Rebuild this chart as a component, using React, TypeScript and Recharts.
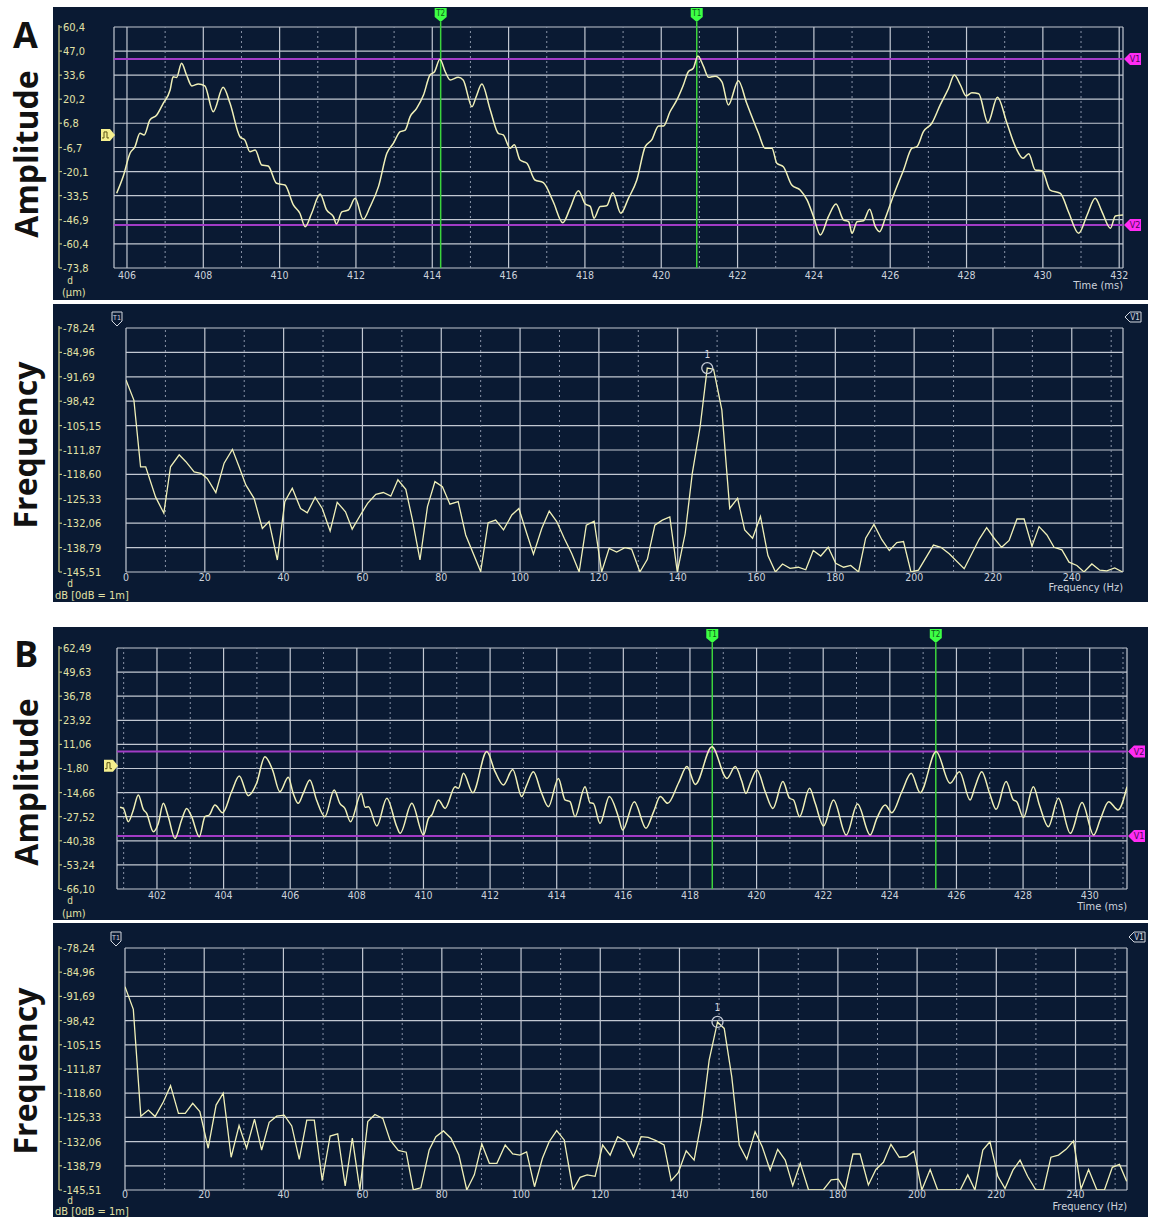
import React from "react";
import { CartesianGrid, Line, LineChart, ReferenceDot, ReferenceLine, XAxis, YAxis } from "recharts";

// ---- amplitude trace, record A: [time ms, displacement µm]
const ampATrace: [number, number][] = [
  [405.73, -32.2], [405.9, -22.9], [406.08, -9.9], [406.21, -6.2], [406.34, 1.2], [406.45, 0.3],
  [406.6, 8.6], [406.78, 11.4], [406.95, 17.9], [407.13, 25.3], [407.21, 32.7], [407.3, 32.3],
  [407.43, 40.2], [407.56, 33.7], [407.7, 27.6], [407.87, 28.7], [408.04, 27.6], [408.26, 13.2],
  [408.52, 26.8], [408.7, 17.9], [408.96, -0.7], [409.09, -2.6], [409.22, -9.0], [409.36, -8.1],
  [409.53, -16.4], [409.7, -17.0], [409.92, -26.6], [410.14, -27.6], [410.36, -38.7], [410.53, -43.3],
  [410.67, -50.8], [410.84, -43.3], [411.06, -32.6], [411.23, -41.5], [411.41, -45.2], [411.49, -49.3],
  [411.63, -42.5], [411.8, -41.5], [411.98, -35.0], [412.19, -46.7], [412.37, -39.7], [412.59, -28.5],
  [412.81, -9.9], [412.98, -4.4], [413.16, 2.1], [413.29, 3.0], [413.42, 10.5], [413.59, 15.1],
  [413.77, 22.5], [413.94, 33.7], [414.06, 35.5], [414.2, 42.4], [414.34, 35.5], [414.47, 30.9],
  [414.68, 32.4], [414.81, 30.9], [415.04, 16.0], [415.15, 21.6], [415.3, 28.7], [415.52, 14.2],
  [415.73, 1.2], [415.86, 0.3], [416.04, -7.1], [416.15, -5.2], [416.3, -13.7], [416.48, -15.5],
  [416.69, -24.8], [416.91, -26.3], [417.17, -36.9], [417.42, -48.6], [417.61, -40.6], [417.83, -30.8],
  [418.01, -38.2], [418.14, -39.5], [418.24, -46.1], [418.4, -39.5], [418.57, -39.2], [418.73, -31.9],
  [418.94, -43.3], [419.14, -35.0], [419.36, -24.8], [419.58, -6.2], [419.75, -2.5], [419.93, 5.3],
  [420.06, 5.3], [420.23, 13.2], [420.41, 19.8], [420.58, 28.1], [420.71, 35.5], [420.84, 37.4],
  [420.96, 44.3], [421.11, 38.3], [421.24, 32.4], [421.41, 33.0], [421.59, 29.9], [421.76, 17.0],
  [422.02, 30.5], [422.24, 17.9], [422.55, 1.2], [422.72, -7.1], [422.9, -7.1], [423.03, -15.5],
  [423.2, -17.4], [423.42, -27.6], [423.64, -30.4], [423.82, -35.9], [423.99, -45.2], [424.17, -55.4],
  [424.38, -45.2], [424.58, -38.2], [424.78, -47.1], [424.91, -48.0], [425.0, -54.5], [425.13, -48.0],
  [425.3, -47.5], [425.46, -41.1], [425.61, -50.8], [425.72, -53.6], [425.87, -46.1], [426.09, -33.1],
  [426.35, -19.2], [426.57, -7.1], [426.7, -6.2], [426.87, 2.1], [427.09, 6.8], [427.31, 17.0],
  [427.53, 26.3], [427.68, 33.7], [427.84, 28.1], [427.99, 22.0], [428.14, 23.8], [428.32, 23.2],
  [428.56, 7.1], [428.81, 21.3], [429.06, 6.8], [429.28, -6.2], [429.48, -12.7], [429.63, -10.2],
  [429.8, -19.2], [429.98, -19.6], [430.19, -30.4], [430.46, -32.2], [430.67, -42.5], [430.94, -54.5],
  [431.16, -44.3], [431.37, -35.0], [431.55, -42.5], [431.77, -51.7], [431.9, -44.8], [432.1, -44.3],
];

// ---- spectrum, record A: [frequency Hz, level dB]
const freqATrace: [number, number][] = [
  [0, -92.6], [2.0, -98.1], [3.7, -116.5], [5.0, -116.5], [7.5, -124.8], [9.6, -129.3], [11.3, -116.5],
  [13.5, -113.2], [15.2, -115.1], [17.3, -117.9], [19.0, -118.3], [20.6, -119.7], [22.8, -123.6],
  [24.9, -115.5], [27.0, -111.7], [28.7, -116.5], [30.4, -121.5], [32.5, -125.2], [34.6, -133.5],
  [36.3, -131.6], [38.4, -142.2], [40.3, -126.1], [42.2, -122.4], [44.3, -128.0], [46.0, -129.2],
  [48.0, -124.9], [49.8, -128.0], [51.8, -134.2], [53.6, -126.3], [55.7, -128.9], [57.4, -133.7],
  [59.6, -129.6], [61.3, -126.6], [63.4, -124.1], [65.3, -123.6], [67.2, -124.6], [69.0, -120.1],
  [71.0, -122.7], [72.7, -131.2], [74.6, -142.2], [76.5, -127.5], [78.4, -120.6], [80.3, -122.0],
  [82.2, -126.8], [84.3, -126.1], [86.2, -135.3], [90.0, -145.4], [91.9, -131.9], [93.8, -131.2],
  [95.8, -133.9], [97.9, -129.8], [99.7, -128.0], [101.7, -134.9], [103.4, -140.6], [105.5, -133.5],
  [107.4, -128.7], [109.3, -131.6], [111.2, -136.2], [113.1, -140.4], [115.0, -145.5], [116.8, -132.6],
  [118.8, -131.5], [120.7, -145.5], [122.6, -139.0], [124.5, -140.0], [126.6, -138.8], [128.3, -139.2],
  [130.4, -145.5], [132.3, -142.0], [134.2, -132.6], [136.1, -131.2], [138.0, -130.3], [139.9, -145.5],
  [141.9, -134.9], [143.7, -118.3], [145.7, -105.4], [147.5, -89.3], [149.1, -89.6], [151.2, -100.8],
  [153.2, -128.0], [155.2, -125.2], [157.0, -133.9], [159.0, -136.2], [161.0, -130.2], [162.9, -141.0],
  [164.8, -145.5], [166.6, -143.3], [168.5, -144.5], [170.6, -144.2], [172.5, -144.9], [174.4, -139.6],
  [176.3, -141.1], [178.2, -138.7], [180.1, -143.1], [182.1, -144.2], [183.9, -143.7], [185.9, -145.5],
  [187.7, -136.2], [189.8, -132.4], [191.8, -136.6], [193.7, -139.6], [195.6, -137.4], [197.3, -137.1],
  [199.2, -145.5], [201.1, -145.0], [204.9, -138.1], [206.8, -138.7], [208.9, -140.5], [212.7, -144.6],
  [216.5, -136.5], [218.4, -133.3], [220.3, -136.2], [222.2, -138.7], [224.1, -136.8], [226.1, -130.9],
  [227.9, -130.9], [229.9, -138.4], [231.7, -133.0], [233.7, -135.3], [235.5, -138.7], [237.5, -139.4],
  [239.3, -142.8], [241.3, -143.7], [243.1, -145.5], [245.1, -143.3], [247.1, -145.0], [248.9, -145.2],
  [250.9, -144.4], [252.9, -145.5],
];

// ---- amplitude trace, record B
const ampBTrace: [number, number][] = [
  [400.89, -22.5], [400.99, -23.1], [401.14, -30.2], [401.29, -23.9], [401.44, -15.9], [401.59, -23.6],
  [401.69, -25.7], [401.89, -35.5], [402.04, -31.1], [402.19, -20.4], [402.34, -27.5], [402.54, -39.1],
  [402.74, -29.3], [402.89, -23.1], [403.04, -27.5], [403.27, -38.2], [403.44, -27.5], [403.57, -26.6],
  [403.74, -21.3], [403.97, -25.4], [404.24, -14.2], [404.47, -5.8], [404.74, -16.3], [404.99, -9.7],
  [405.24, 4.5], [405.47, -2.6], [405.69, -14.2], [405.94, -6.5], [406.09, -15.1], [406.24, -20.4],
  [406.39, -15.1], [406.59, -7.9], [406.79, -18.6], [407.04, -27.5], [407.32, -13.3], [407.49, -20.4],
  [407.64, -23.1], [407.81, -30.2], [408.13, -15.1], [408.25, -22.5], [408.35, -22.2], [408.6, -32.5],
  [408.9, -17.7], [409.2, -32.9], [409.3, -36.4], [409.65, -20.4], [410.0, -37.3], [410.15, -28.4],
  [410.25, -26.6], [410.45, -18.6], [410.65, -23.1], [410.95, -11.5], [411.05, -12.4], [411.2, -4.4],
  [411.48, -14.7], [411.9, 7.2], [412.15, -3.5], [412.4, -10.6], [412.68, -2.3], [412.95, -16.8],
  [413.08, -11.5], [413.3, -3.5], [413.53, -14.2], [413.75, -22.2], [414.05, -7.1], [414.25, -18.6],
  [414.4, -19.5], [414.55, -27.5], [414.85, -11.5], [415.0, -20.0], [415.1, -20.4], [415.3, -31.1],
  [415.58, -16.8], [415.85, -27.5], [415.98, -34.6], [416.33, -19.5], [416.68, -33.7], [416.91, -24.8],
  [417.11, -16.8], [417.33, -20.4], [417.66, -9.4], [417.91, -0.8], [418.16, -10.3], [418.66, 9.8],
  [419.11, -7.1], [419.36, -0.8], [419.56, -8.8], [419.68, -15.1], [419.81, -9.7], [420.01, -2.6],
  [420.26, -14.2], [420.49, -23.1], [420.79, -8.8], [420.99, -17.7], [421.11, -18.6], [421.29, -27.5],
  [421.59, -12.4], [421.76, -20.4], [422.01, -32.5], [422.31, -18.6], [422.69, -37.3], [423.03, -20.8],
  [423.41, -37.3], [423.61, -28.4], [423.86, -21.3], [424.06, -25.4], [424.36, -14.2], [424.64, -4.4],
  [424.91, -14.7], [425.39, 7.2], [425.81, -9.7], [426.09, -3.5], [426.41, -18.6], [426.56, -11.5],
  [426.76, -3.5], [426.99, -14.7], [427.19, -23.6], [427.49, -8.8], [427.71, -18.6], [427.81, -19.5],
  [428.01, -27.9], [428.31, -11.5], [428.49, -21.3], [428.76, -32.9], [429.06, -17.7], [429.42, -36.4],
  [429.77, -20.0], [430.12, -37.3], [430.32, -28.9], [430.57, -19.5], [430.85, -23.9], [431.12, -11.5],
];

// ---- spectrum, record B
const freqBTrace: [number, number][] = [
  [0, -89.0], [2.1, -95.3], [4.0, -125.0], [5.9, -123.3], [7.6, -125.1], [9.7, -121.0], [11.5, -116.5],
  [13.5, -124.2], [15.2, -124.2], [17.1, -121.4], [18.9, -123.7], [21.0, -133.9], [23.0, -121.9],
  [24.8, -118.6], [26.8, -136.4], [28.8, -127.6], [30.7, -133.9], [32.7, -125.8], [34.5, -134.4],
  [36.4, -126.7], [38.3, -125.0], [40.2, -124.7], [42.1, -127.7], [44.0, -137.0], [45.9, -126.1],
  [47.8, -126.1], [49.8, -142.9], [51.8, -130.5], [53.7, -129.9], [55.6, -144.4], [57.4, -131.1],
  [59.3, -145.5], [61.3, -126.5], [63.1, -124.5], [65.1, -125.6], [66.9, -131.6], [69.0, -134.5],
  [71.0, -135.0], [72.8, -145.5], [74.7, -144.9], [76.8, -134.4], [78.5, -130.7], [80.4, -129.1],
  [82.3, -131.1], [84.3, -135.8], [86.3, -145.5], [88.2, -141.3], [90.1, -132.7], [92.0, -138.1],
  [93.9, -138.1], [96.0, -133.0], [97.9, -135.5], [99.7, -135.8], [101.4, -134.9], [103.4, -144.6],
  [105.4, -136.7], [107.1, -132.1], [109.0, -129.0], [110.9, -131.6], [113.1, -145.5], [114.9, -142.0],
  [116.7, -141.3], [118.7, -141.7], [120.6, -133.0], [122.5, -135.8], [124.4, -130.7], [126.5, -132.1],
  [128.4, -136.3], [130.3, -130.7], [132.1, -130.9], [134.1, -131.8], [136.1, -133.0], [137.9, -142.9],
  [139.7, -140.7], [141.7, -134.6], [143.7, -137.2], [145.6, -126.1], [147.5, -109.4], [149.6, -98.8],
  [151.3, -100.6], [153.2, -114.0], [155.1, -133.0], [157.0, -137.0], [159.1, -129.3], [160.9, -133.5],
  [162.9, -140.0], [164.8, -134.2], [166.7, -137.2], [168.6, -144.3], [170.5, -138.1], [172.6, -145.5],
  [174.4, -145.5], [176.3, -145.5], [178.3, -142.7], [180.1, -142.5], [181.8, -145.5], [183.8, -135.5],
  [185.6, -135.5], [187.7, -144.1], [189.6, -139.8], [191.5, -137.8], [193.4, -132.8], [195.5, -136.4],
  [197.4, -136.2], [199.2, -134.7], [201.2, -145.5], [203.3, -139.8], [205.2, -145.5], [207.1, -145.5],
  [209.0, -145.5], [210.9, -145.5], [212.8, -141.3], [214.6, -145.5], [216.6, -134.4], [218.4, -132.1],
  [220.4, -141.7], [222.2, -145.1], [224.2, -140.0], [226.0, -137.2], [227.9, -141.7], [230.0, -145.5],
  [231.9, -145.5], [233.8, -136.4], [235.7, -135.8], [237.6, -134.2], [239.5, -131.9], [241.4, -145.2],
  [243.3, -139.8], [245.4, -145.5], [247.3, -145.5], [249.3, -139.2], [251.1, -138.4], [252.9, -143.1],
];

// ---- axis tick labels (decimal comma, as the analyser prints them)
const ampAYLabels = ["60,4", "47,0", "33,6", "20,2", "6,8", "-6,7", "-20,1", "-33,5", "-46,9", "-60,4", "-73,8"];
const ampBYLabels = ["62,49", "49,63", "36,78", "23,92", "11,06", "-1,80", "-14,66", "-27,52", "-40,38", "-53,24", "-66,10"];
const freqYLabels = ["-78,24", "-84,96", "-91,69", "-98,42", "-105,15", "-111,87", "-118,60", "-125,33", "-132,06", "-138,79", "-145,51"];

const ampAXTicks = [406, 408, 410, 412, 414, 416, 418, 420, 422, 424, 426, 428, 430, 432];
const ampAXMinor = [407, 409, 411, 413, 415, 417, 419, 421, 423, 425, 427, 429, 431];
const ampBXTicks = [402, 404, 406, 408, 410, 412, 414, 416, 418, 420, 422, 424, 426, 428, 430];
const ampBXMinor = [401, 403, 405, 407, 409, 411, 413, 415, 417, 419, 421, 423, 425, 427, 429, 431];
const freqXTicks = [0, 20, 40, 60, 80, 100, 120, 140, 160, 180, 200, 220, 240];
const freqXMinor = [10, 30, 50, 70, 90, 110, 130, 150, 170, 190, 210, 230, 250];

// cursor / level settings of each record
const ampALevels = { v1: 42.6, v2: -49.8, trigger: 0.3, t1: 420.93, t2: 414.22 };
const ampBLevels = { v1: -37.8, v2: 7.2, trigger: -0.3, t1: 418.67, t2: 425.38 };

// the marked spectral line is searched above the DC skirt
const PEAK_SEARCH_FROM_HZ = 20;

const PANEL_BG = "#0a1a33";
const GRID = "#c2c8d2";
const GRID_MINOR = "#8a94a8";
const TRACE = "#f0f0b8";
const AXIS_LINE = "#c4c47e";
const Y_LABEL = "#e2e2a6";
const X_LABEL = "#cdd3dc";
const MAGENTA = "#a23cc6";
const MAGENTA_TAG = "#ff2cf4";
const CURSOR = "#3cd43c";
const OUTLINE = "#d4d8e0";
const NARROW = "'Liberation Sans Narrow', 'DejaVu Sans Condensed', 'Arial Narrow', sans-serif";
const AXIS_X = 6;

const toValue = (label: string) => parseFloat(label.replace(",", "."));
const toRows = (trace: [number, number][]) => trace.map(([x, y]) => ({ x, y }));
const peakOf = (trace: [number, number][], fromX: number) =>
  trace.filter((p) => p[0] >= fromX).reduce((best, p) => (p[1] > best[1] ? p : best));

type Box = { l: number; t: number; r: number; b: number };
type UnitLine = { text: string; x: number; dy: number; anchor?: "start" | "middle" | "end"; size?: number };

type PanelProps = {
  box: Box;
  plot: Box;
  trace: [number, number][];
  xDomain: [number, number];
  xTicks: number[];
  xMinor: number[];
  yLabels: string[];
  xTitle: string;
  xLabelDy: number;
  xTitleDy: number;
  units: UnitLine[];
  curve: "monotone" | "linear";
  children?: React.ReactNode;
};

// green time cursor flag above the plot
const CursorTag = ({ viewBox, text }: any) => {
  const x = viewBox.x;
  const y = viewBox.y;
  return (
    <g>
      <line x1={x} x2={x} y1={y - 5} y2={y} stroke={CURSOR} strokeWidth={1.5} />
      <path d={`M${x - 6},${y - 19} h12 v9 l-6,5 l-6,-5 z`} fill="#3dff45" />
      <text x={x} y={y - 11} textAnchor="middle" fontSize={8} fontFamily={NARROW} fill="#0b5a16">
        {text}
      </text>
    </g>
  );
};

// magenta level flag to the right of the plot
const LevelTag = ({ viewBox, text }: any) => {
  const x = viewBox.x + viewBox.width + 1;
  const y = viewBox.y;
  return (
    <g>
      <path d={`M${x},${y} l6,-6 h11 v12 h-11 z`} fill={MAGENTA_TAG} />
      <text x={x + 11} y={y + 3.5} textAnchor="middle" fontSize={9} fontFamily={NARROW} fill="#4a0a56">
        {text}
      </text>
    </g>
  );
};

// yellow trigger level flag to the left of the plot
const TriggerTag = ({ viewBox }: any) => {
  const x = viewBox.x;
  const y = viewBox.y;
  return (
    <g>
      <path d={`M${x - 13},${y - 6} h9 l5,6 l-5,6 h-9 z`} fill="#f6f08e" />
      <path d={`M${x - 12},${y + 3} h2 v-6 h3 v6 h2`} fill="none" stroke="#5c5414" strokeWidth={1} />
    </g>
  );
};

// outlined marker flags of the spectrum view
const OutlineDownTag = ({ viewBox, text }: any) => {
  const cx = viewBox.x - 9;
  const top = viewBox.y - 16;
  return (
    <g>
      <path d={`M${cx - 5},${top} h10 v9 l-5,5 l-5,-5 z`} fill={PANEL_BG} stroke={OUTLINE} strokeWidth={1} />
      <text x={cx} y={top + 8} textAnchor="middle" fontSize={7} fontFamily={NARROW} fill={OUTLINE}>
        {text}
      </text>
    </g>
  );
};

const OutlineLeftTag = ({ viewBox, text }: any) => {
  const x = viewBox.x + viewBox.width + 2;
  const y = viewBox.y - 11;
  return (
    <g>
      <path d={`M${x},${y} l5,-5 h11 v10 h-11 z`} fill={PANEL_BG} stroke={OUTLINE} strokeWidth={1} />
      <text x={x + 10} y={y + 3} textAnchor="middle" fontSize={8} fontFamily={NARROW} fill={OUTLINE}>
        {text}
      </text>
    </g>
  );
};

const Panel = ({
  box,
  plot,
  trace,
  xDomain,
  xTicks,
  xMinor,
  yLabels,
  xTitle,
  xLabelDy,
  xTitleDy,
  units,
  curve,
  children,
}: PanelProps) => {
  const width = box.r - box.l;
  const height = box.b - box.t;
  const plotTop = plot.t - box.t;
  const plotBottom = plot.b - box.t;
  const yTicks = yLabels.map(toValue);

  const renderYTick = (props: any) => {
    const { y, payload } = props;
    const i = yTicks.indexOf(payload.value);
    return (
      <g>
        {i === 0 && (
          <line x1={AXIS_X} x2={AXIS_X} y1={plotTop - 2} y2={plotBottom} stroke={AXIS_LINE} strokeWidth={1.3} />
        )}
        <line x1={AXIS_X} x2={AXIS_X + 3} y1={y} y2={y} stroke={AXIS_LINE} strokeWidth={1.2} />
        <text x={AXIS_X + 4} y={y + 4} fontSize={11} fontFamily={NARROW} fill={Y_LABEL}>
          {yLabels[i]}
        </text>
      </g>
    );
  };

  const renderXTick = (props: any) => (
    <text x={props.x} y={plotBottom + xLabelDy} textAnchor="middle" fontSize={10.5} fontFamily={NARROW} fill={X_LABEL}>
      {props.payload.value}
    </text>
  );

  return (
    <div style={{ position: "absolute", left: box.l, top: box.t, width, height, background: PANEL_BG }}>
      <LineChart
        width={width}
        height={height}
        data={toRows(trace)}
        margin={{ top: plotTop, right: box.r - plot.r, bottom: 0, left: 0 }}
      >
        <CartesianGrid stroke={GRID} strokeWidth={1.2} />
        {xMinor.map((v) => (
          <ReferenceLine key={`minor-${v}`} x={v} stroke={GRID_MINOR} strokeWidth={1} strokeDasharray="2 3" />
        ))}
        <XAxis
          dataKey="x"
          type="number"
          domain={xDomain}
          ticks={xTicks}
          interval={0}
          allowDataOverflow
          height={box.b - plot.b}
          axisLine={false}
          tickLine={false}
          tick={renderXTick}
          label={{
            content: (p: any) => (
              <text
                x={p.viewBox.x + p.viewBox.width}
                y={p.viewBox.y + xTitleDy}
                textAnchor="end"
                fontSize={11}
                fontFamily={NARROW}
                fill={X_LABEL}
              >
                {xTitle}
              </text>
            ),
          }}
        />
        <YAxis
          type="number"
          domain={[yTicks[yTicks.length - 1], yTicks[0]]}
          ticks={yTicks}
          interval={0}
          allowDataOverflow
          width={plot.l - box.l}
          axisLine={false}
          tickLine={false}
          tick={renderYTick}
          label={{
            content: () => (
              <g>
                {units.map((u) => (
                  <text
                    key={u.text}
                    x={u.x - box.l}
                    y={plotBottom + u.dy}
                    textAnchor={u.anchor ?? "start"}
                    fontSize={u.size ?? 11}
                    fontFamily={NARROW}
                    fill={Y_LABEL}
                  >
                    {u.text}
                  </text>
                ))}
              </g>
            ),
          }}
        />
        {children}
        <Line
          dataKey="y"
          type={curve}
          stroke={TRACE}
          strokeWidth={curve === "monotone" ? 1.5 : 1.3}
          dot={false}
          activeDot={false}
          isAnimationActive={false}
        />
      </LineChart>
    </div>
  );
};

const freqAPeak = peakOf(freqATrace, PEAK_SEARCH_FROM_HZ);
const freqBPeak = peakOf(freqBTrace, PEAK_SEARCH_FROM_HZ);

const sideTitle = { fontFamily: "'Open Sans', 'Noto Sans', sans-serif", fontWeight: 700, fill: "#111" };

export default function App() {
  return (
    <div style={{ position: "absolute", left: 0, top: 0, width: 1151, height: 1217, background: "#fff" }}>
      <svg width={1151} height={1217} style={{ position: "absolute", left: 0, top: 0 }}>
        <text x={13} y={48} fontSize={36} {...sideTitle}>A</text>
        <text x={14} y={667} fontSize={36} {...sideTitle}>B</text>
        <text transform="translate(38,154) rotate(-90)" textAnchor="middle" fontSize={32} {...sideTitle}>Amplitude</text>
        <text transform="translate(37,445) rotate(-90)" textAnchor="middle" fontSize={32} {...sideTitle}>Frequency</text>
        <text transform="translate(38,782) rotate(-90)" textAnchor="middle" fontSize={32} {...sideTitle}>Amplitude</text>
        <text transform="translate(37,1071) rotate(-90)" textAnchor="middle" fontSize={32} {...sideTitle}>Frequency</text>
      </svg>

      <Panel
        box={{ l: 53, t: 7, r: 1148, b: 300 }}
        plot={{ l: 114, t: 27, r: 1123, b: 268 }}
        trace={ampATrace}
        xDomain={[405.66, 432.1]}
        xTicks={ampAXTicks}
        xMinor={ampAXMinor}
        yLabels={ampAYLabels}
        xTitle="Time (ms)"
        xLabelDy={11}
        xTitleDy={21}
        units={[
          { text: "d", x: 70, dy: 16, anchor: "middle", size: 10 },
          { text: "(µm)", x: 62, dy: 28 },
        ]}
        curve="monotone"
      >
        <ReferenceLine y={ampALevels.v1} stroke={MAGENTA} strokeWidth={2} label={<LevelTag text="V1" />} />
        <ReferenceLine y={ampALevels.v2} stroke={MAGENTA} strokeWidth={2} label={<LevelTag text="V2" />} />
        <ReferenceLine y={ampALevels.trigger} strokeOpacity={0} label={<TriggerTag />} />
        <ReferenceLine x={ampALevels.t2} stroke={CURSOR} strokeWidth={1.5} label={<CursorTag text="T2" />} />
        <ReferenceLine x={ampALevels.t1} stroke={CURSOR} strokeWidth={1.5} label={<CursorTag text="T1" />} />
      </Panel>

      <Panel
        box={{ l: 53, t: 304, r: 1148, b: 602 }}
        plot={{ l: 126, t: 328, r: 1123, b: 572 }}
        trace={freqATrace}
        xDomain={[0, 253]}
        xTicks={freqXTicks}
        xMinor={freqXMinor}
        yLabels={freqYLabels}
        xTitle="Frequency (Hz)"
        xLabelDy={9}
        xTitleDy={19}
        units={[
          { text: "d", x: 70, dy: 15, anchor: "middle", size: 10 },
          { text: "dB [0dB = 1m]", x: 55, dy: 27 },
        ]}
        curve="linear"
      >
        <ReferenceLine x={0} strokeOpacity={0} label={<OutlineDownTag text="T1" />} />
        <ReferenceLine y={toValue(freqYLabels[0])} strokeOpacity={0} label={<OutlineLeftTag text="V1" />} />
        <ReferenceDot
          x={freqAPeak[0]}
          y={freqAPeak[1]}
          r={5.5}
          fill="none"
          stroke="#c2c8d4"
          strokeWidth={1.3}
          label={{ value: "1", position: "top", offset: 5, fill: OUTLINE, fontSize: 10, fontFamily: NARROW }}
        />
      </Panel>

      <Panel
        box={{ l: 53, t: 627, r: 1148, b: 920 }}
        plot={{ l: 117, t: 648, r: 1127, b: 889 }}
        trace={ampBTrace}
        xDomain={[400.8, 431.12]}
        xTicks={ampBXTicks}
        xMinor={ampBXMinor}
        yLabels={ampBYLabels}
        xTitle="Time (ms)"
        xLabelDy={10}
        xTitleDy={21}
        units={[
          { text: "d", x: 70, dy: 15, anchor: "middle", size: 10 },
          { text: "(µm)", x: 62, dy: 28 },
        ]}
        curve="monotone"
      >
        <ReferenceLine y={ampBLevels.v2} stroke={MAGENTA} strokeWidth={2} label={<LevelTag text="V2" />} />
        <ReferenceLine y={ampBLevels.v1} stroke={MAGENTA} strokeWidth={2} label={<LevelTag text="V1" />} />
        <ReferenceLine y={ampBLevels.trigger} strokeOpacity={0} label={<TriggerTag />} />
        <ReferenceLine x={ampBLevels.t1} stroke={CURSOR} strokeWidth={1.5} label={<CursorTag text="T1" />} />
        <ReferenceLine x={ampBLevels.t2} stroke={CURSOR} strokeWidth={1.5} label={<CursorTag text="T2" />} />
      </Panel>

      <Panel
        box={{ l: 53, t: 923, r: 1148, b: 1217 }}
        plot={{ l: 125, t: 948, r: 1127, b: 1190 }}
        trace={freqBTrace}
        xDomain={[0, 253]}
        xTicks={freqXTicks}
        xMinor={freqXMinor}
        yLabels={freqYLabels}
        xTitle="Frequency (Hz)"
        xLabelDy={8}
        xTitleDy={20}
        units={[
          { text: "d", x: 70, dy: 14, anchor: "middle", size: 10 },
          { text: "dB [0dB = 1m]", x: 55, dy: 25 },
        ]}
        curve="linear"
      >
        <ReferenceLine x={0} strokeOpacity={0} label={<OutlineDownTag text="T1" />} />
        <ReferenceLine y={toValue(freqYLabels[0])} strokeOpacity={0} label={<OutlineLeftTag text="V1" />} />
        <ReferenceDot
          x={freqBPeak[0]}
          y={freqBPeak[1]}
          r={5.5}
          fill="none"
          stroke="#c2c8d4"
          strokeWidth={1.3}
          label={{ value: "1", position: "top", offset: 5, fill: OUTLINE, fontSize: 10, fontFamily: NARROW }}
        />
      </Panel>
    </div>
  );
}
